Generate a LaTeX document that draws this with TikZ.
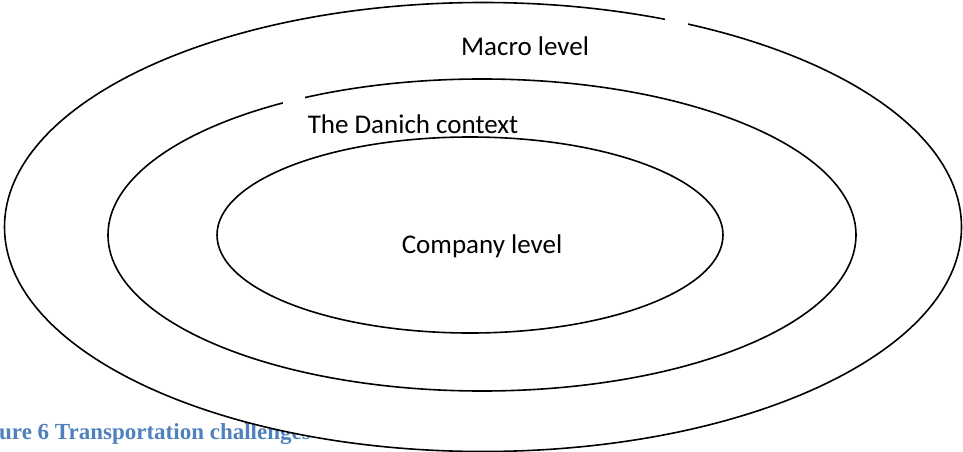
\documentclass[tikz,border=0pt]{standalone}
\usepackage{fontspec}
\setmainfont{Carlito}
\newfontfamily\capfont{Liberation Serif}
\usetikzlibrary{shapes.geometric}
\definecolor{capblue}{HTML}{4F81BD}

\begin{document}
\begin{tikzpicture}[x=1pt,y=-1pt,
    ring/.style={ellipse,draw,fill=white,line width=1.6pt,inner sep=0pt},
    lbl/.style={anchor=base,inner sep=0pt,font=\fontsize{27}{32}\selectfont}]
  \useasboundingbox (0,0) rectangle (963,452);

  \node[anchor=base west,text=capblue,font=\capfont\bfseries\fontsize{23}{27}\selectfont,inner sep=0pt] at (-1,439) (cap) {ure 6 Transportation challenges};

  \node[ring,minimum width=957pt,minimum height=449pt] at (483,227) (macro) {};
  \node[ring,minimum width=748pt,minimum height=312pt] at (482,235) (danish) {};
  \node[ring,minimum width=506pt,minimum height=196pt] at (470,235) (company) {};

  % white gaps left by the text boxes
  \fill[white] (665,10) rectangle (688,32);
  \fill[white] (283,90) rectangle (305,110);

  \node[lbl] at (525,56) (macrolbl) {Macro level};
  \node[lbl] at (413,133) (danishlbl) {The Danich context};
  \node[lbl] at (482,253) (companylbl) {Company level};
\end{tikzpicture}
\end{document}
